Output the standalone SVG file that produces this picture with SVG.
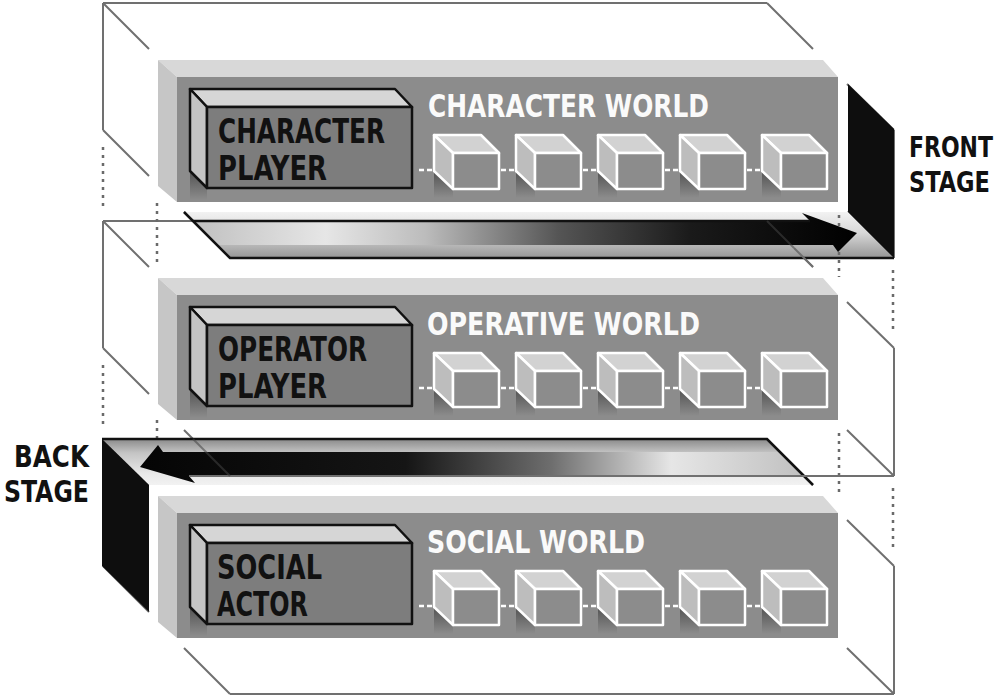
<svg xmlns="http://www.w3.org/2000/svg" width="1005" height="698" viewBox="0 0 1005 698">
<style>
.wire{stroke:#707070;stroke-width:2;fill:none}
.dot{stroke:#6a6a6a;stroke-width:2.5;fill:none;stroke-dasharray:3 5}
.stop{fill:#d8d8d8}
.sleft{fill:#c6c6c6}
.sfront{fill:#8c8c8c}
.ptop{fill:#d6d6d6;stroke:#111;stroke-width:2.5;stroke-linejoin:round}
.pleft{fill:#c4c4c4;stroke:#111;stroke-width:2.5;stroke-linejoin:round}
.pfront{fill:#7d7d7d;stroke:#111;stroke-width:2.5;stroke-linejoin:round}
.ctop{fill:#d2d2d2;stroke:#fff;stroke-width:2.5;stroke-linejoin:round}
.cleft{fill:#bdbdbd;stroke:#fff;stroke-width:2.5;stroke-linejoin:round}
.cfront{fill:#8c8c8c;stroke:#fff;stroke-width:2.5;stroke-linejoin:round}
.dash{stroke:#fff;stroke-width:2.5;stroke-dasharray:5 3;fill:none}
.plabel{font-family:"DejaVu Sans Condensed","DejaVu Sans","Liberation Sans",sans-serif;font-weight:bold;font-size:34px;fill:#111}
.wlabel{font-family:"DejaVu Sans Condensed","DejaVu Sans","Liberation Sans",sans-serif;font-weight:bold;font-size:32px;fill:#fafafa}
.slabel{font-family:"DejaVu Sans Condensed","DejaVu Sans","Liberation Sans",sans-serif;font-weight:bold;font-size:30px;fill:#111}
.fs{font-size:28px}
.panel{fill:#0e0e0e}
.edge{stroke:#111;stroke-width:2.5;fill:none}
.over{stroke:#444;stroke-width:2;fill:none;opacity:0.55}
</style>
<defs>
<linearGradient id="frontFloor" x1="0" y1="212" x2="0" y2="258" gradientUnits="userSpaceOnUse">
<stop offset="0" stop-color="#f2f2f2"/><stop offset="0.45" stop-color="#d8d8d8"/><stop offset="1" stop-color="#959595"/>
</linearGradient>
<linearGradient id="frontShaft" x1="193" y1="0" x2="857" y2="0" gradientUnits="userSpaceOnUse">
<stop offset="0" stop-color="#c0c0c0"/><stop offset="0.2" stop-color="#e6e6e6"/><stop offset="0.35" stop-color="#bcbcbc"/><stop offset="0.55" stop-color="#555"/><stop offset="0.75" stop-color="#1a1a1a"/><stop offset="1" stop-color="#000"/>
</linearGradient>
<linearGradient id="backFloor" x1="0" y1="439" x2="0" y2="485" gradientUnits="userSpaceOnUse">
<stop offset="0" stop-color="#8a8a8a"/><stop offset="0.3" stop-color="#c4c4c4"/><stop offset="0.75" stop-color="#e8e8e8"/><stop offset="1" stop-color="#f2f2f2"/>
</linearGradient>
<linearGradient id="backShaft" x1="140" y1="0" x2="804" y2="0" gradientUnits="userSpaceOnUse">
<stop offset="0" stop-color="#050505"/><stop offset="0.4" stop-color="#151515"/><stop offset="0.62" stop-color="#6e6e6e"/><stop offset="0.8" stop-color="#e6e6e6"/><stop offset="1" stop-color="#c0c0c0"/>
</linearGradient>
<linearGradient id="shade" x1="0" y1="0" x2="0" y2="1">
<stop offset="0" stop-color="#3a3a3a" stop-opacity="0.7"/><stop offset="1" stop-color="#3a3a3a" stop-opacity="0"/>
</linearGradient>
<g id="cube">
<polygon points="0,171 19,189 19,198 0,198" fill="url(#shade)"/>
<polygon class="ctop" points="0,135 47,135 65,153 19,153"/>
<polygon class="cleft" points="0,135 19,153 19,189 0,171"/>
<rect class="cfront" x="19" y="153" width="46" height="36"/>
</g>
<g id="slab">
<polygon class="stop" points="158,60 823,60 838,77 177,77"/>
<polygon class="sleft" points="158,60 177,77 177,202 158,186"/>
<rect class="sfront" x="177" y="77" width="661" height="125"/>
<polygon points="190,171 207,188 207,200 190,200" fill="url(#shade)"/>
<polygon class="ptop" points="190,89 395,89 412,107 207,107"/>
<polygon class="pleft" points="190,89 207,107 207,188 190,171"/>
<rect class="pfront" x="207" y="107" width="205" height="81"/>
<path class="dash" d="M419,170 H433 M501,170 H515 M583,170 H597 M665,170 H679 M747,170 H761"/>
<use href="#cube" x="434"/>
<use href="#cube" x="516"/>
<use href="#cube" x="598"/>
<use href="#cube" x="680"/>
<use href="#cube" x="762"/>
</g>
<g id="frame">
<path class="wire" d="M103,3 H767 M103,3 V130 M103,3 L149,49 M103,130 L149,176 M767,3 L813,49 M847,84 L894,130 M894,130 V258 M847,212 L894,258 M184,212 L230,258 M230,258 H894"/>
</g>
</defs>

<g id="wireframes">
<use href="#frame"/>
<use href="#frame" y="218"/>
<use href="#frame" y="436"/>
<path class="dot" d="M103,147 V207 M103,365 V425 M157,203 V262 M157,420 V480 M893,270 V330 M893,488 V548 M839,433 V495"/>
</g>

<g id="character-world">
<use href="#slab"/>
<text class="plabel" x="218" y="143" textLength="167" lengthAdjust="spacingAndGlyphs">CHARACTER</text>
<text class="plabel" x="218" y="180" textLength="109" lengthAdjust="spacingAndGlyphs">PLAYER</text>
<text class="wlabel" x="428" y="117" textLength="281" lengthAdjust="spacingAndGlyphs">CHARACTER WORLD</text>
</g>

<g id="operative-world">
<use href="#slab" y="218"/>
<text class="plabel" x="218" y="361" textLength="149" lengthAdjust="spacingAndGlyphs">OPERATOR</text>
<text class="plabel" x="218" y="398" textLength="109" lengthAdjust="spacingAndGlyphs">PLAYER</text>
<text class="wlabel" x="427" y="335" textLength="273" lengthAdjust="spacingAndGlyphs">OPERATIVE WORLD</text>
</g>

<g id="social-world">
<use href="#slab" y="436"/>
<text class="plabel" x="217" y="579" textLength="105" lengthAdjust="spacingAndGlyphs">SOCIAL</text>
<text class="plabel" x="217" y="616" textLength="91" lengthAdjust="spacingAndGlyphs">ACTOR</text>
<text class="wlabel" x="427" y="553" textLength="218" lengthAdjust="spacingAndGlyphs">SOCIAL WORLD</text>
</g>

<g id="connectors">
<g id="front-arrow">
<polygon points="184,212 848,212 894,258 230,258" fill="url(#frontFloor)"/>
<path d="M193,221 L810,221 L802,213 L857,233 L838,252 L833,245 L217,245 Z" fill="url(#frontShaft)"/>
<path class="edge" d="M193,221 H810" stroke-width="2"/>
<path class="edge" d="M184,212 L230,258 H894"/>
<path class="over" d="M767,221 L794,248"/>
<path class="wire" d="M794,248 L813,267"/>
<path class="dot" d="M839,215 V226 M839,252 V277"/>
</g>
<g id="back-arrow">
<polygon points="102,439 767,439 813,485 149,485" fill="url(#backFloor)"/>
<path d="M804,476 L189,476 L195,483 L140,467 L158,445 L163,452 L780,452 Z" fill="url(#backShaft)"/>
<path class="edge" d="M102,439 H767 L813,485"/>
<path class="wire" d="M189,476 H894"/>
<path class="over" d="M193,439 L230,476"/>
</g>
</g>

<g id="front-stage">
<polygon class="panel" points="848,84 894,129 894,258 848,212"/>
<text class="slabel fs" x="909" y="157" textLength="84" lengthAdjust="spacingAndGlyphs">FRONT</text>
<text class="slabel fs" x="909" y="192" textLength="81" lengthAdjust="spacingAndGlyphs">STAGE</text>
</g>

<g id="back-stage">
<polygon class="panel" points="102,439 149,485 149,612 102,566"/>
<text class="slabel" x="14" y="467" textLength="75" lengthAdjust="spacingAndGlyphs">BACK</text>
<text class="slabel" x="4" y="502" textLength="85" lengthAdjust="spacingAndGlyphs">STAGE</text>
</g>
</svg>
